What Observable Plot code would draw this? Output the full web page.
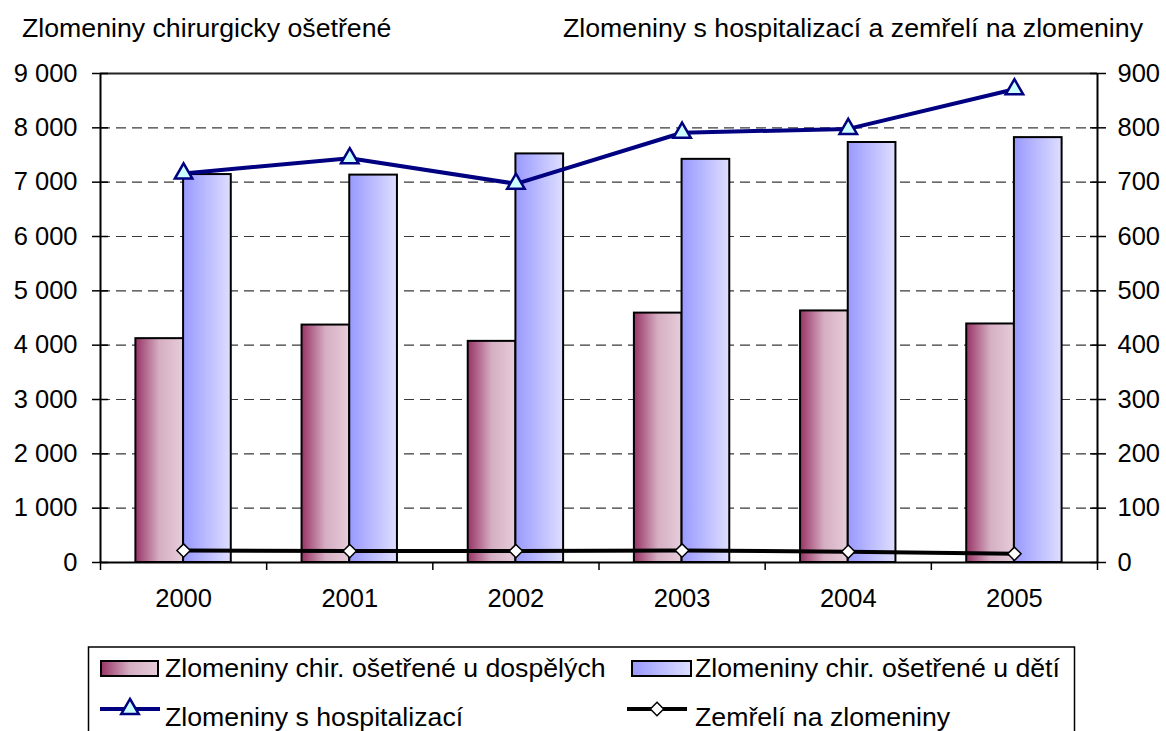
<!DOCTYPE html>
<html><head><meta charset="utf-8">
<script src="https://cdn.jsdelivr.net/npm/d3@7"></script>
<script src="https://cdn.jsdelivr.net/npm/@observablehq/plot@0.6"></script>
<style>
body{margin:0;background:#fff;font-family:"Liberation Sans",Arial,sans-serif;}
#wrap{position:relative;width:1166px;height:731px;overflow:hidden;background:#fff;}
#chart{position:absolute;left:0;top:50px;}
.ov{position:absolute;left:0;font-family:"Liberation Sans",Arial,sans-serif;}
</style></head><body>
<div id="wrap">
<svg class="ov" id="head" style="top:0" width="1166" height="50"></svg>
<div id="chart"></div>
<svg class="ov" id="legend" style="top:646px" width="1166" height="85"></svg>
</div>
<script>
const years = [2000, 2001, 2002, 2003, 2004, 2005];
const adults = [4120, 4370, 4070, 4590, 4630, 4390];
const children = [7140, 7130, 7520, 7420, 7730, 7820];
const hospital = [716, 744, 697, 791, 798, 871];
const deaths = [22, 21, 21, 22, 20, 16];
const leftTicks = [0, 1000, 2000, 3000, 4000, 5000, 6000, 7000, 8000, 9000];
const rightTicks = [0, 100, 200, 300, 400, 500, 600, 700, 800, 900];
const seriesNames = ["Zlomeniny chir. ošetřené u dospělých", "Zlomeniny chir. ošetřené u dětí", "Zlomeniny s hospitalizací", "Zemřelí na zlomeniny"];
const titleLeft = "Zlomeniny chirurgicky ošetřené";
const titleRight = "Zlomeniny s hospitalizací a zemřelí na zlomeniny";

const K = 10; // right axis (0–900) mapped onto left axis (0–9000)
const rows = years.map((year, i) => ({year, adult: adults[i], child: children[i], hosp: hospital[i], death: deaths[i]}));
const barW = 0.287;
const fmt = d => d3.format(",")(d).replace(/,/g, " ");
const xDomain = [years[0] - 0.5, years[years.length - 1] + 0.5];
const boundaries = years.map(y => y - 0.5).concat([years[years.length - 1] + 0.5]);
const FONT = "Liberation Sans, Arial, sans-serif";
const TICK_FS = 25.5, TEXT_FS = 26.7;

const plot = Plot.plot({
  width: 1166, height: 596,
  marginLeft: 100, marginRight: 69, marginTop: 23, marginBottom: 84,
  x: {type: "linear", domain: xDomain, label: null},
  y: {domain: [0, 9000], label: null},
  style: {fontFamily: FONT, fontSize: TICK_FS + "px", color: "black", background: "white", overflow: "visible"},
  marks: [
    Plot.ruleY(leftTicks.filter(d => d > 0 && d < 9000), {stroke: "#3a3a3a", strokeWidth: 1.2, strokeDasharray: "10,6"}),
    Plot.rect(rows, {x1: d => d.year - barW, x2: "year", y1: 0, y2: "adult", fill: "url(#gradAdult)", stroke: "black", strokeWidth: 2}),
    Plot.rect(rows, {x1: "year", x2: d => d.year + barW, y1: 0, y2: "child", fill: "url(#gradChild)", stroke: "black", strokeWidth: 2}),
    Plot.line(rows, {x: "year", y: d => d.hosp * K, stroke: "#000080", strokeWidth: 4}),
    Plot.dot(rows, {x: "year", y: d => d.hosp * K, symbol: "triangle", r: 6.5, fill: "#CCFFFF", stroke: "#000080", strokeWidth: 2.5}),
    Plot.line(rows, {x: "year", y: d => d.death * K, stroke: "black", strokeWidth: 4}),
    Plot.dot(rows, {x: "year", y: d => d.death * K, symbol: "diamond2", r: 6, fill: "white", stroke: "black", strokeWidth: 1.5}),
    Plot.ruleY([9000], {stroke: "#222", strokeWidth: 2}),
    Plot.ruleY([0], {stroke: "black", strokeWidth: 2}),
    Plot.ruleX(xDomain, {stroke: "black", strokeWidth: 2}),
    Plot.axisY(leftTicks, {anchor: "left", label: null, tickSize: 0, tickPadding: 23, tickFormat: fmt, fontSize: TICK_FS}),
    Plot.axisY(leftTicks, {anchor: "left", label: null, tickSize: 16, dx: 8, tickFormat: () => "", strokeWidth: 1.5}),
    Plot.axisY(rightTicks.map(v => v * K), {anchor: "right", label: null, tickSize: 0, tickPadding: 20, tickFormat: d => String(d / K), fontSize: TICK_FS}),
    Plot.axisY(rightTicks.map(v => v * K), {anchor: "right", label: null, tickSize: 16, dx: -8, tickFormat: () => "", strokeWidth: 1.5}),
    Plot.axisX(years, {anchor: "bottom", label: null, tickSize: 0, tickPadding: 26, tickFormat: d => String(d), fontSize: TICK_FS}),
    Plot.axisX(boundaries, {anchor: "bottom", label: null, tickSize: 8, tickFormat: () => "", strokeWidth: 1.5})
  ]
});
document.getElementById("chart").appendChild(plot);

function addGradients(svgSel, prefix) {
  const defs = svgSel.insert("defs", ":first-child");
  const gA = defs.append("linearGradient").attr("id", prefix + "Adult").attr("x1", 0).attr("x2", 1).attr("y1", 0).attr("y2", 0);
  [[0, "#993366"], [0.5, "#D5AEC2"], [1, "#E6CDDA"]].forEach(([o, c]) => gA.append("stop").attr("offset", o).attr("stop-color", c));
  const gC = defs.append("linearGradient").attr("id", prefix + "Child").attr("x1", 0).attr("x2", 1).attr("y1", 0).attr("y2", 0);
  [[0, "#9999FF"], [0.45, "#B8B8FF"], [1, "#DEDEFF"]].forEach(([o, c]) => gC.append("stop").attr("offset", o).attr("stop-color", c));
}
addGradients(d3.select(plot), "grad");

// titles
const head = d3.select("#head");
head.append("text").attr("x", 22).attr("y", 37).attr("font-size", TEXT_FS).text(titleLeft);
head.append("text").attr("x", 1143).attr("y", 37).attr("font-size", TEXT_FS).attr("text-anchor", "end").text(titleRight);

// legend
const lg = d3.select("#legend");
addGradients(lg, "lg");
lg.append("rect").attr("x", 88.5).attr("y", 1).attr("width", 986).attr("height", 140).attr("fill", "white").attr("stroke", "black").attr("stroke-width", 1.5);
lg.append("rect").attr("x", 101).attr("y", 15).attr("width", 57).attr("height", 15).attr("fill", "url(#lgAdult)").attr("stroke", "black").attr("stroke-width", 2);
lg.append("rect").attr("x", 632).attr("y", 15).attr("width", 59).attr("height", 15).attr("fill", "url(#lgChild)").attr("stroke", "black").attr("stroke-width", 2);
lg.append("line").attr("x1", 100).attr("x2", 160).attr("y1", 63).attr("y2", 63).attr("stroke", "#000080").attr("stroke-width", 4);
lg.append("path").attr("d", d3.symbol(d3.symbolTriangle, Math.PI * 6.5 * 6.5)()).attr("transform", "translate(130,63)").attr("fill", "#CCFFFF").attr("stroke", "#000080").attr("stroke-width", 2.5);
lg.append("line").attr("x1", 627).attr("x2", 687).attr("y1", 63).attr("y2", 63).attr("stroke", "black").attr("stroke-width", 4);
lg.append("path").attr("d", d3.symbol(d3.symbolDiamond2, Math.PI * 36)()).attr("transform", "translate(657,63)").attr("fill", "white").attr("stroke", "black").attr("stroke-width", 1.5);
[[165, 31, 0], [695, 31, 1], [165, 80, 2], [695, 80, 3]].forEach(([x, y, i]) =>
  lg.append("text").attr("x", x).attr("y", y).attr("font-size", TEXT_FS).text(seriesNames[i]));
</script>
</body></html>
